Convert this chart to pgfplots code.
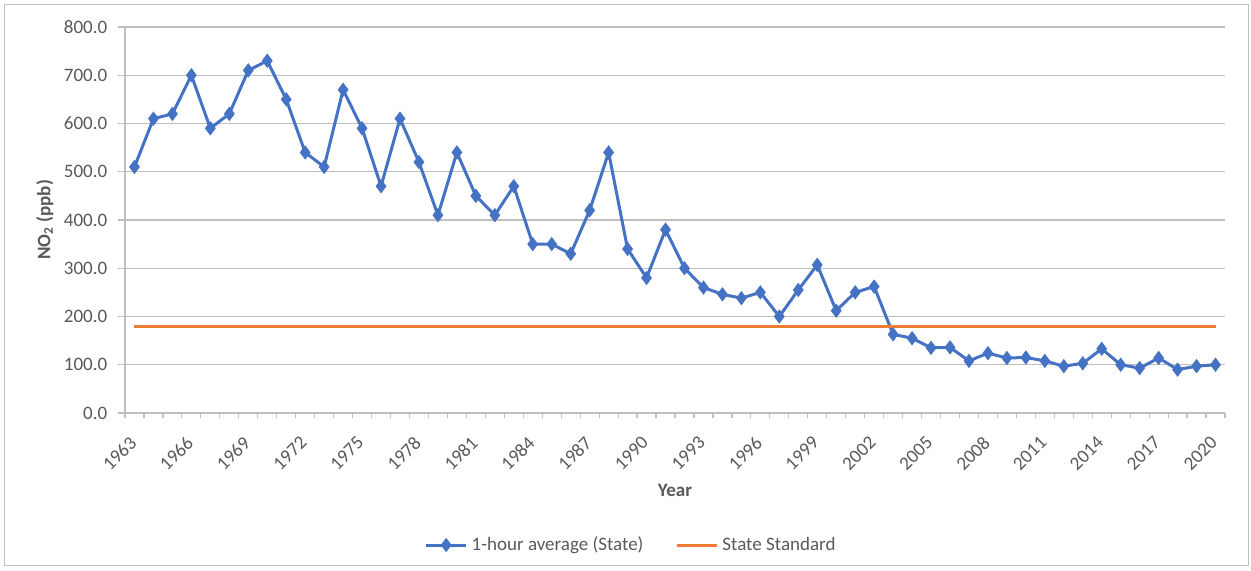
\documentclass[border=0pt]{standalone}
\usepackage{pgfplots}
\pgfplotsset{compat=1.18}
\usepackage{fontspec}
\setmainfont{Carlito}
\definecolor{serblue}{HTML}{4472C4}
\definecolor{serorange}{HTML}{ED7D31}
\definecolor{txtgray}{HTML}{595959}
\definecolor{gridgray}{HTML}{BFBFBF}
\begin{document}
\fontsize{9.5}{11.4}\selectfont
\begin{tikzpicture}
\useasboundingbox (-62.5pt,-79pt) rectangle (563pt,206.5pt);
\draw[gridgray,line width=0.5pt] (-60pt,-76.5pt) rectangle (561.5pt,204pt);
\begin{axis}[
  at={(0,0)}, anchor=south west,
  scale only axis, width=550pt, height=193pt,
  xmin=-0.5, xmax=57.5, ymin=0, ymax=800,
  axis lines*=left,
  axis line style={gridgray, line width=0.6pt},
  tick align=outside,
  ytick={0,100,...,800},
  yticklabels={0.0,100.0,200.0,300.0,400.0,500.0,600.0,700.0,800.0},
  ymajorgrids, grid style={gridgray, line width=0.6pt},
  major tick length=3.5pt, minor tick length=2.5pt,
  ytick style={gridgray, line width=0.6pt},
  xtick={0,3,...,57},
  xticklabels={1963,1966,1969,1972,1975,1978,1981,1984,1987,1990,1993,1996,1999,2002,2005,2008,2011,2014,2017,2020},
  major x tick style={draw=none},
  minor xtick={-0.5,0.5,...,57.5},
  minor x tick style={gridgray, line width=0.6pt},
  tick label style={text=txtgray, font=\fontsize{9.5}{11.4}\selectfont},
  xticklabel style={xshift=-3pt, yshift=-6pt, rotate=45, anchor=north east, inner sep=1pt},
  yticklabel style={xshift=-2pt},
  xlabel={Year}, ylabel={NO\textsubscript{2} (ppb)},
  label style={text=txtgray, font=\fontsize{9.5}{11.4}\selectfont\bfseries},
  xlabel style={at={(axis description cs:0.5,-0.2)}, anchor=center},
  ylabel style={at={(axis description cs:-0.073,0.5)}, anchor=center},
  legend columns=2,
  legend style={at={(axis description cs:0.461,-0.342)}, anchor=center, draw=none, fill=none,
    font=\fontsize{9.5}{11.4}\selectfont, text=txtgray,
    /tikz/every even column/.append style={column sep=14pt}},
  legend image code/.code={\draw[#1] (0pt,0pt) -- (20pt,0pt); \draw[#1,mark repeat=1] plot coordinates {(10pt,0pt)};},
]
\addplot[serblue, line width=1.5pt, mark=diamond*, mark size=3.2pt, mark options={fill=serblue, draw=serblue, line width=0.5pt}] table {
x y
0 510
1 610
2 620
3 700
4 590
5 620
6 710
7 730
8 650
9 540
10 510
11 670
12 590
13 470
14 610
15 520
16 410
17 540
18 450
19 410
20 470
21 350
22 350
23 330
24 420
25 540
26 340
27 280
28 380
29 300
30 260
31 246
32 238
33 250
34 200
35 255
36 307
37 212
38 250
39 262
40 163
41 155
42 135
43 136
44 108
45 124
46 114
47 115
48 108
49 97
50 103
51 133
52 100
53 93
54 114
55 90
56 97
57 100
};
\addlegendentry{1-hour average (State)}
\addplot[serorange, line width=1.5pt, no markers, legend image code/.code={\draw[serorange, line width=1.5pt] (0pt,0pt) -- (20pt,0pt);}] coordinates {(0,180) (57,180)};
\addlegendentry{State Standard}
\end{axis}
\end{tikzpicture}
\end{document}
